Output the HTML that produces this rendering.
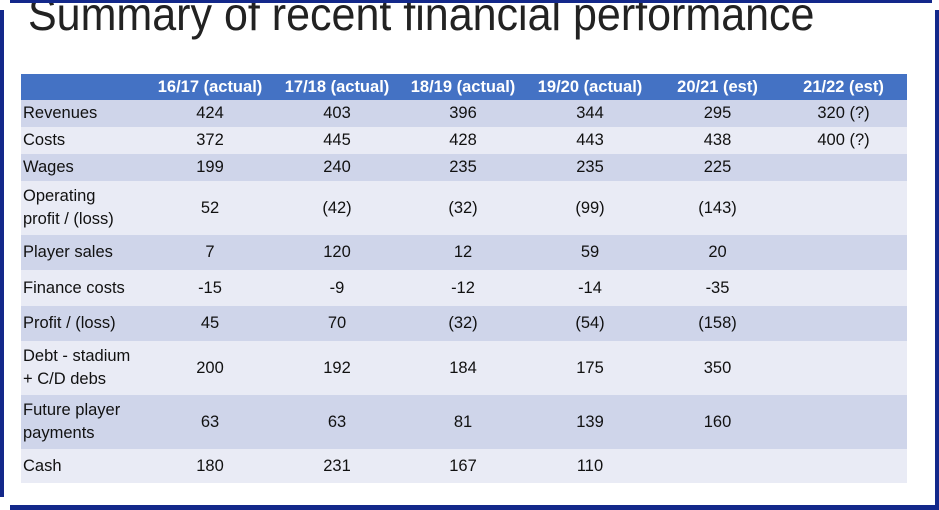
<!DOCTYPE html>
<html><head><meta charset="utf-8"><style>
body{margin:0;width:939px;height:510px;background:#fff;position:relative;overflow:hidden;font-family:"Liberation Sans",sans-serif}
.b{position:absolute;background:#13288a}
.t{position:absolute;left:28px;top:-13px;font-size:46px;line-height:normal;color:#222;white-space:nowrap;transform-origin:0 0;transform:scaleX(0.935);font-weight:normal}
.c{position:absolute;box-sizing:border-box;font-size:16.5px;color:#111;display:flex;align-items:center;justify-content:center;text-align:center;line-height:23px;border-right:1.5px solid #fff;border-bottom:1.5px solid #fff}
.l{justify-content:flex-start;text-align:left;padding-left:2px}
.h{background:#4472c4;color:#fff;font-weight:bold}
.d{background:#cfd5ea}.e{background:#e9ebf5}
</style></head><body>
<div class="t">Summary of recent financial performance</div>
<div class="b" style="left:10px;top:0;width:922px;height:3px"></div>
<div class="b" style="left:0;top:10px;width:4px;height:487px"></div>
<div class="b" style="left:935px;top:10px;width:4px;height:500px"></div>
<div class="b" style="left:10px;top:505px;width:929px;height:5px"></div>
<div id="tb"></div>
<script>
var cols=[21,147,273,401,525,655,780,907];
var rows=[74,100,127,154,181,235,270,306,341,395,449,483];
var data=[
["","16/17 (actual)","17/18 (actual)","18/19 (actual)","19/20 (actual)","20/21 (est)","21/22 (est)"],
["Revenues","424","403","396","344","295","320 (?)"],
["Costs","372","445","428","443","438","400 (?)"],
["Wages","199","240","235","235","225",""],
["Operating<br>profit / (loss)","52","(42)","(32)","(99)","(143)",""],
["Player sales","7","120","12","59","20",""],
["Finance costs","-15","-9","-12","-14","-35",""],
["Profit / (loss)","45","70","(32)","(54)","(158)",""],
["Debt - stadium<br>+ C/D debs","200","192","184","175","350",""],
["Future player<br>payments","63","63","81","139","160",""],
["Cash","180","231","167","110","",""]];
var h="";
for(var r=0;r<data.length;r++)for(var c=0;c<7;c++){
var cls="c "+(r==0?"h":(r%2?"d":"e"))+(c==0?" l":"");
h+='<div class="'+cls+'" style="left:'+cols[c]+'px;top:'+rows[r]+'px;width:'+(cols[c+1]-cols[c]+1)+'px;height:'+(rows[r+1]-rows[r]+1)+'px">'+data[r][c]+'</div>';}
document.getElementById("tb").innerHTML=h;
</script>
</body></html>
